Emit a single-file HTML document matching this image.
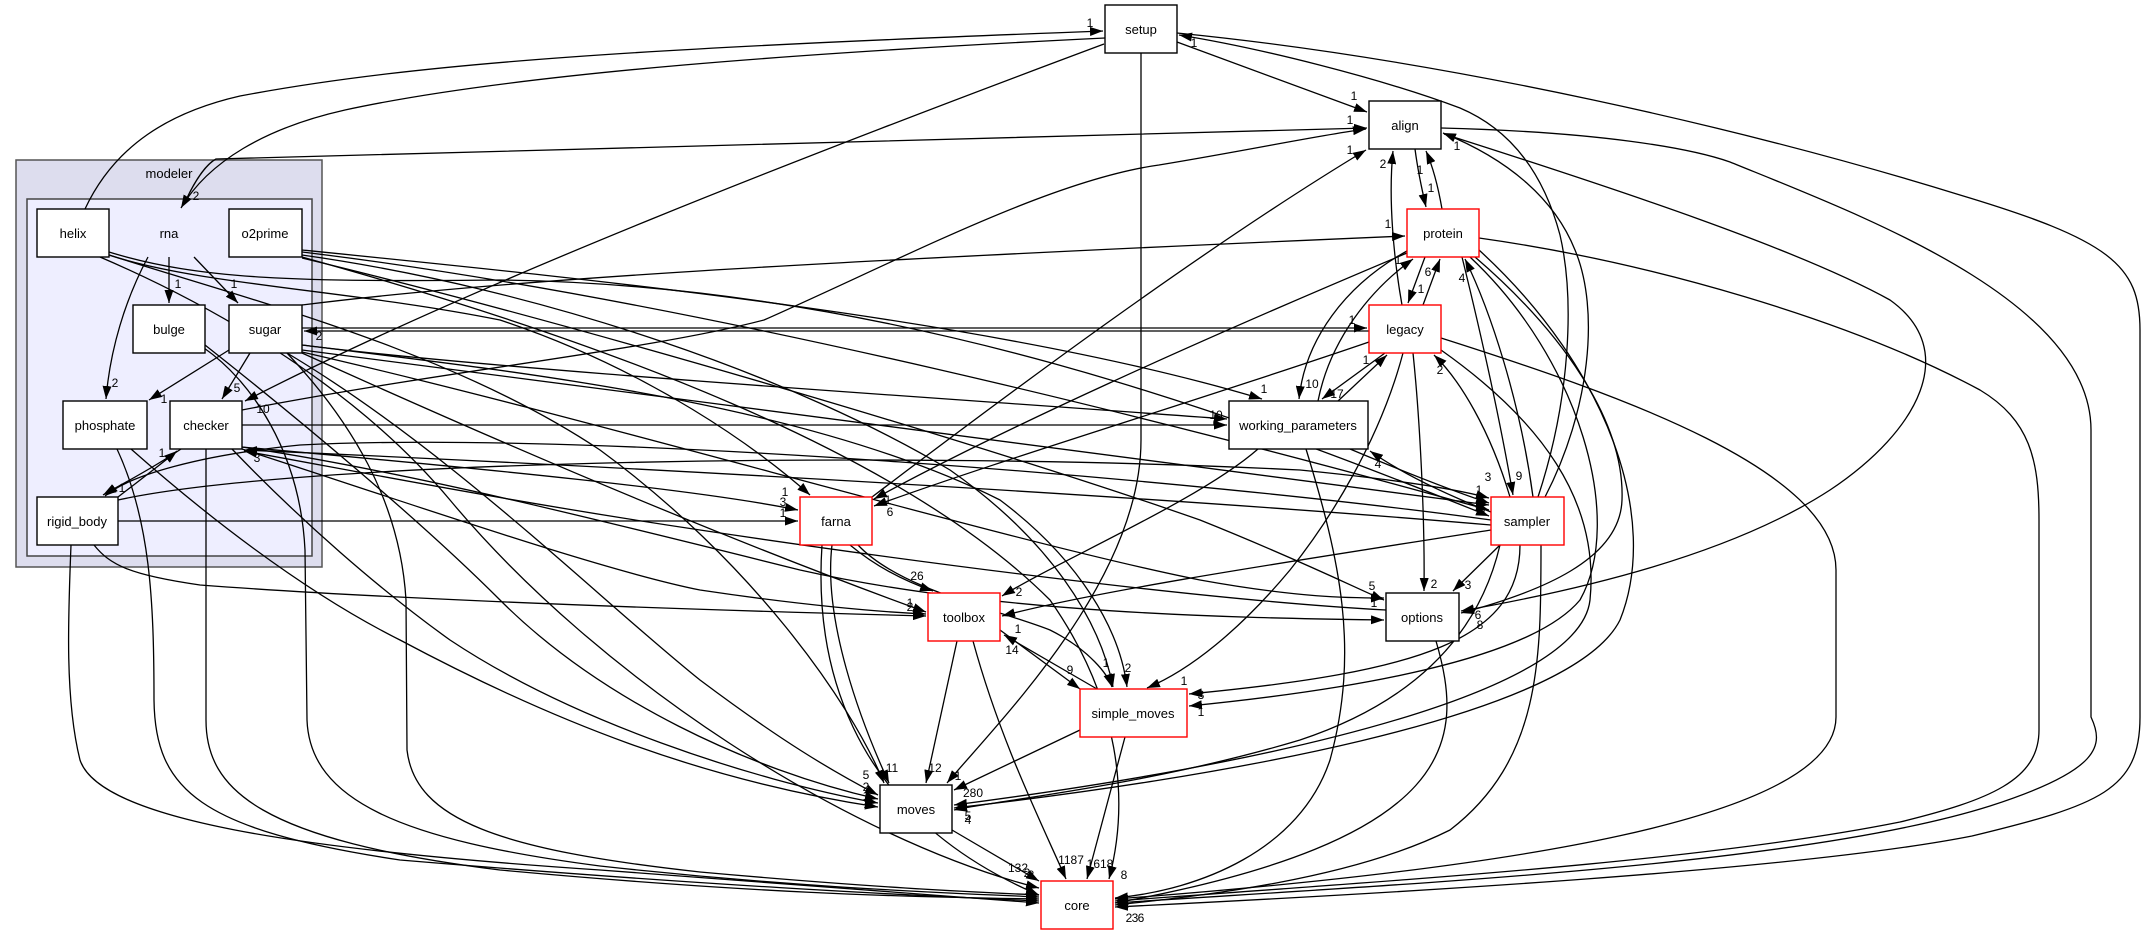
<!DOCTYPE html>
<html><head><meta charset="utf-8"><title>modeler dependency graph</title>
<style>
html,body{margin:0;padding:0;background:#fff;}
svg{display:block;}
.e{fill:none;stroke:#000;stroke-width:1.3;}
.n{fill:#fff;stroke:#000;stroke-width:1.4;}
.r{fill:#fff;stroke:#ff0000;stroke-width:1.4;}
.t{font-family:"Liberation Sans",Arial,sans-serif;font-size:13px;fill:#000;text-anchor:middle;}
.l{font-family:"Liberation Sans",Arial,sans-serif;font-size:12px;fill:#000;text-anchor:middle;}
</style></head>
<body>
<svg width="2144" height="935" viewBox="0 0 2144 935" xmlns="http://www.w3.org/2000/svg">
<defs>
<marker id="a" viewBox="0 0 13 9" refX="13" refY="4.5" markerWidth="13" markerHeight="9" markerUnits="userSpaceOnUse" orient="auto"><path d="M0,0 L13,4.5 L0,9z" fill="#000"/></marker>
</defs>

<!-- clusters -->
<rect x="16" y="160" width="306" height="407" fill="#ddddee" stroke="#555" stroke-width="1.5"/>
<text class="t" x="169" y="178">modeler</text>
<rect x="27" y="199" width="285" height="357" fill="#eeeeff" stroke="#444" stroke-width="1.5"/>
<text class="t" x="169" y="238">rna</text>

<g class="e" marker-end="url(#a)">
<!-- top -->
<path d="M85,209 C115,145 170,112 240,96 C420,62 650,48 1103,31"/>
<path d="M1105,38 C820,52 520,72 345,110 C265,128 208,162 181,208"/>
<path d="M186,200 C194,183 205,165 216,159 L1367,128"/>
<path d="M1177,42 L1367,112"/>
<path d="M1104,44 C820,150 470,285 245,401"/>
<path d="M1141,53 L1141,440 C1141,580 1000,720 947,783"/>
<path d="M1177,33 C1450,60 1750,130 1960,195 C2110,240 2140,265 2140,330 L2140,717 C2140,790 2100,805 1972,836 C1800,870 1400,893 1115,907"/>
<path d="M1538,497 C1570,400 1575,300 1560,235 C1540,160 1500,125 1460,108 C1380,78 1260,48 1179,35"/>
<path d="M1545,497 C1590,410 1600,310 1575,250 C1555,200 1510,160 1443,133"/>
<path d="M1441,128 C1600,132 1690,148 1730,162 C1860,215 2091,300 2091,430 L2091,717 C2104,745 2102,770 1990,806 C1800,866 1400,884 1115,903"/>
<path d="M1479,238 C1650,262 1850,320 1980,390 C2030,420 2039,460 2039,520 L2039,730 C2039,780 1990,800 1900,822 C1700,862 1400,880 1115,901"/>
<path d="M1441,338 C1620,395 1836,470 1836,570 L1836,717 C1836,820 1500,870 1115,899"/>
<path d="M1444,134 C1620,190 1800,250 1890,300 C1960,350 1920,430 1830,490 C1730,555 1580,590 1461,611"/>
<!-- right internal -->
<path d="M1415,149 C1418,172 1422,190 1426,207"/>
<path d="M1442,209 C1438,186 1433,167 1426,151"/>
<path d="M1402,305 C1394,260 1388,200 1393,151"/>
<path d="M1425,257 L1408,303"/>
<path d="M1423,305 L1440,259"/>
<path d="M1407,251 C1345,285 1305,340 1299,399"/>
<path d="M1318,401 C1330,340 1370,290 1413,259"/>
<path d="M1385,353 L1322,399"/>
<path d="M1338,401 L1387,355"/>
<path d="M1407,253 C1200,340 1000,430 874,499"/>
<path d="M1369,342 C1200,400 1000,460 874,506"/>
<path d="M1462,257 C1480,330 1500,420 1513,495"/>
<path d="M1533,497 C1520,400 1490,310 1465,259"/>
<path d="M1510,497 C1490,430 1460,380 1434,355"/>
<path d="M1350,449 C1400,470 1450,490 1489,503"/>
<path d="M1491,512 C1440,492 1400,472 1370,451"/>
<path d="M1413,353 C1420,420 1425,520 1424,591"/>
<path d="M1500,545 L1453,591"/>
<path d="M1258,449 C1200,500 1060,560 1002,596"/>
<path d="M1491,530 C1300,560 1100,590 1002,616"/>
<path d="M1306,449 C1340,560 1360,650 1330,760 C1300,850 1200,890 1115,898"/>
<path d="M1403,353 C1380,440 1330,520 1290,570 C1240,630 1190,670 1147,688"/>
<path d="M1441,350 C1540,420 1600,500 1590,600 C1580,690 1300,760 954,805"/>
<path d="M1475,257 C1560,330 1625,420 1622,500 C1620,560 1540,592 1461,613"/>
<path d="M1470,257 C1580,360 1625,520 1580,600 C1530,660 1350,690 1189,706"/>
<path d="M1479,250 C1610,370 1660,520 1620,620 C1570,720 1200,780 954,808"/>
<path d="M1520,545 C1520,640 1420,672 1189,694"/>
<path d="M1500,545 C1480,630 1420,700 1300,740 C1150,785 1000,800 954,810"/>
<path d="M1541,545 C1541,660 1541,760 1450,830 C1350,880 1200,896 1115,905"/>
<path d="M1436,641 C1465,740 1460,840 1115,903"/>
<path d="M850,545 C880,570 910,583 933,591"/>
<path d="M858,545 C900,590 1000,610 1050,630 C1090,650 1108,675 1112,687"/>
<path d="M832,545 C823,620 860,720 889,783"/>
<path d="M822,545 C815,650 840,810 1039,895"/>
<path d="M957,641 L926,783"/>
<path d="M973,641 C1000,740 1040,820 1066,879"/>
<path d="M1000,630 L1080,689"/>
<path d="M1097,689 L1004,635"/>
<path d="M1080,730 L954,790"/>
<path d="M1125,737 L1087,879"/>
<path d="M952,830 L1039,881"/>
<path d="M872,497 C1000,400 1200,250 1366,150"/>
<path d="M242,410 C450,370 650,350 764,320 C900,260 1050,180 1159,165 C1250,150 1320,135 1366,129"/>
<!-- modeler internal -->
<path d="M169,257 L169,303"/>
<path d="M194,257 L238,303"/>
<path d="M148,257 C125,300 110,350 106,399"/>
<path d="M229,350 L149,400"/>
<path d="M250,353 L222,399"/>
<path d="M181,449 C150,470 120,485 103,495"/>
<path d="M118,497 C140,480 160,465 177,451"/>
<!-- modeler outgoing -->
<path d="M118,521 L798,521"/>
<path d="M94,545 C110,565 130,575 200,585 C400,600 700,610 926,616"/>
<path d="M71,545 C68,620 65,700 80,760 C100,820 300,850 600,870 C800,885 950,895 1039,903"/>
<path d="M117,449 C150,520 154,600 154,700 C155,790 200,830 400,860 C700,885 900,895 1039,901"/>
<path d="M131,449 C200,510 300,590 400,640 C550,720 700,780 878,807"/>
<path d="M206,449 L206,720 C206,790 260,840 500,870 C750,893 900,897 1039,899"/>
<path d="M232,449 C300,520 380,590 450,640 C570,720 750,780 878,803"/>
<path d="M204,348 C250,380 300,450 305,550 L307,720 C310,800 400,840 600,866 C800,888 950,893 1039,897"/>
<path d="M205,345 C300,420 420,520 500,600 C600,700 750,770 878,799"/>
<path d="M287,353 C350,420 400,500 406,600 L407,750 C415,820 500,850 700,872 C900,890 1000,893 1039,895"/>
<path d="M242,425 L1227,425"/>
<path d="M302,345 C500,370 900,395 1227,419"/>
<path d="M302,328 L1367,328"/>
<path d="M1369,331 L304,331"/>
<path d="M302,305 C500,280 800,262 1405,236"/>
<path d="M302,250 C600,280 1000,320 1262,399"/>
<path d="M302,252 C700,300 1200,430 1489,510"/>
<path d="M302,255 C550,290 800,380 950,470 C1050,540 1100,620 1113,687"/>
<path d="M302,258 C600,330 1000,450 1200,520 C1300,560 1360,590 1384,600"/>
<path d="M302,257 C600,340 900,450 1050,600 C1120,700 1130,800 1109,879"/>
<path d="M109,255 C200,285 350,290 500,320 C650,370 760,450 810,495"/>
<path d="M109,252 C200,280 300,282 500,280 C900,285 1250,420 1489,516"/>
<path d="M109,255 C250,300 450,350 600,450 C750,560 850,700 884,783"/>
<path d="M100,257 C200,300 350,380 450,500 C600,680 850,840 1039,888"/>
<path d="M242,447 C500,470 700,490 798,510"/>
<path d="M302,350 C700,400 1200,470 1489,505"/>
<path d="M242,447 C400,470 600,520 800,570 C1000,615 1250,618 1384,620"/>
<path d="M302,352 C600,420 1000,540 1200,580 C1300,598 1350,598 1384,598"/>
<path d="M302,353 C450,420 700,530 926,612"/>
<path d="M242,449 C400,500 600,570 700,590 C800,605 880,612 926,614"/>
<path d="M1491,525 C1200,500 700,470 244,450"/>
<path d="M1386,610 C1200,600 900,560 700,530 C500,500 350,470 244,451"/>
<path d="M287,353 C450,450 600,600 700,680 C780,740 830,770 878,795"/>
<path d="M302,345 C500,370 800,400 1000,500 C1080,560 1120,630 1127,687"/>
<path d="M118,500 C300,460 900,450 1300,470 C1400,480 1460,490 1489,498"/>
<path d="M1491,520 C1200,480 600,430 300,445 C200,455 130,475 105,496"/>
</g>

<!-- nodes -->
<rect class="n" x="37" y="209" width="72" height="48"/><text class="t" x="73" y="238">helix</text>
<rect class="n" x="229" y="209" width="73" height="48"/><text class="t" x="265" y="238">o2prime</text>
<rect class="n" x="133" y="305" width="72" height="48"/><text class="t" x="169" y="334">bulge</text>
<rect class="n" x="229" y="305" width="73" height="48"/><text class="t" x="265" y="334">sugar</text>
<rect class="n" x="63" y="401" width="84" height="48"/><text class="t" x="105" y="430">phosphate</text>
<rect class="n" x="170" y="401" width="72" height="48"/><text class="t" x="206" y="430">checker</text>
<rect class="n" x="37" y="497" width="81" height="48"/><text class="t" x="77" y="526">rigid_body</text>

<rect class="n" x="1105" y="5" width="72" height="48"/><text class="t" x="1141" y="34">setup</text>
<rect class="n" x="1369" y="101" width="72" height="48"/><text class="t" x="1405" y="130">align</text>
<rect class="r" x="1407" y="209" width="72" height="48"/><text class="t" x="1443" y="238">protein</text>
<rect class="r" x="1369" y="305" width="72" height="48"/><text class="t" x="1405" y="334">legacy</text>
<rect class="n" x="1229" y="401" width="139" height="48"/><text class="t" x="1298" y="430">working_parameters</text>
<rect class="r" x="800" y="497" width="72" height="48"/><text class="t" x="836" y="526">farna</text>
<rect class="r" x="1491" y="497" width="73" height="48"/><text class="t" x="1527" y="526">sampler</text>
<rect class="r" x="928" y="593" width="72" height="48"/><text class="t" x="964" y="622">toolbox</text>
<rect class="n" x="1386" y="593" width="73" height="48"/><text class="t" x="1422" y="622">options</text>
<rect class="r" x="1080" y="689" width="107" height="48"/><text class="t" x="1133" y="718">simple_moves</text>
<rect class="n" x="880" y="785" width="72" height="48"/><text class="t" x="916" y="814">moves</text>
<rect class="r" x="1041" y="881" width="72" height="48"/><text class="t" x="1077" y="910">core</text>

<!-- edge labels -->
<g class="l">
<text x="1090" y="27">1</text>
<text x="196" y="200">2</text>
<text x="1350" y="124">1</text>
<text x="1354" y="100">1</text>
<text x="263" y="413">10</text>
<text x="958" y="780">1</text>
<text x="1194" y="47">1</text>
<text x="1457" y="150">1</text>
<text x="1478" y="619">6</text>
<text x="1480" y="629">8</text>
<text x="1431" y="192">1</text>
<text x="1420" y="174">1</text>
<text x="1383" y="168">2</text>
<text x="1421" y="293">1</text>
<text x="1428" y="276">6</text>
<text x="1312" y="388">10</text>
<text x="1398" y="264">1</text>
<text x="1337" y="398">17</text>
<text x="1366" y="364">1</text>
<text x="888" y="504">1</text>
<text x="890" y="516">6</text>
<text x="1519" y="480">9</text>
<text x="1462" y="282">4</text>
<text x="1440" y="374">2</text>
<text x="1479" y="494">1</text>
<text x="1378" y="468">4</text>
<text x="1434" y="588">2</text>
<text x="1468" y="589">3</text>
<text x="1019" y="596">2</text>
<text x="1018" y="633">1</text>
<text x="1184" y="685">1</text>
<text x="1201" y="699">3</text>
<text x="1201" y="716">1</text>
<text x="917" y="580">26</text>
<text x="1106" y="667">1</text>
<text x="1128" y="672">2</text>
<text x="892" y="772">11</text>
<text x="935" y="772">12</text>
<text x="1071" y="864">1187</text>
<text x="1070" y="674">9</text>
<text x="1012" y="654">14</text>
<text x="973" y="797">280</text>
<text x="968" y="820">5</text>
<text x="968" y="824">4</text>
<text x="1100" y="868">1618</text>
<text x="1018" y="872">132</text>
<text x="1124" y="879">8</text>
<text x="1350" y="154">1</text>
<text x="178" y="288">1</text>
<text x="234" y="288">1</text>
<text x="115" y="387">2</text>
<text x="164" y="403">1</text>
<text x="237" y="392">5</text>
<text x="122" y="492">1</text>
<text x="162" y="457">1</text>
<text x="257" y="462">3</text>
<text x="783" y="517">1</text>
<text x="783" y="506">3</text>
<text x="785" y="496">1</text>
<text x="910" y="607">1</text>
<text x="910" y="611">2</text>
<text x="1216" y="419">10</text>
<text x="1216" y="427">6</text>
<text x="1352" y="324">1</text>
<text x="319" y="340">2</text>
<text x="1388" y="228">1</text>
<text x="1264" y="393">1</text>
<text x="1488" y="481">3</text>
<text x="1482" y="513">6</text>
<text x="1372" y="590">5</text>
<text x="1374" y="607">1</text>
<text x="866" y="779">5</text>
<text x="866" y="791">2</text>
<text x="866" y="800">1</text>
<text x="867" y="808">2</text>
<text x="1027" y="877">2</text>
<text x="1031" y="879">8</text>
<text x="1029" y="892">2</text>
<text x="1030" y="900">1</text>
<text x="1129" y="922">2</text>
<text x="1135" y="922">3</text>
<text x="1141" y="922">6</text>
</g>
</svg>
</body></html>
